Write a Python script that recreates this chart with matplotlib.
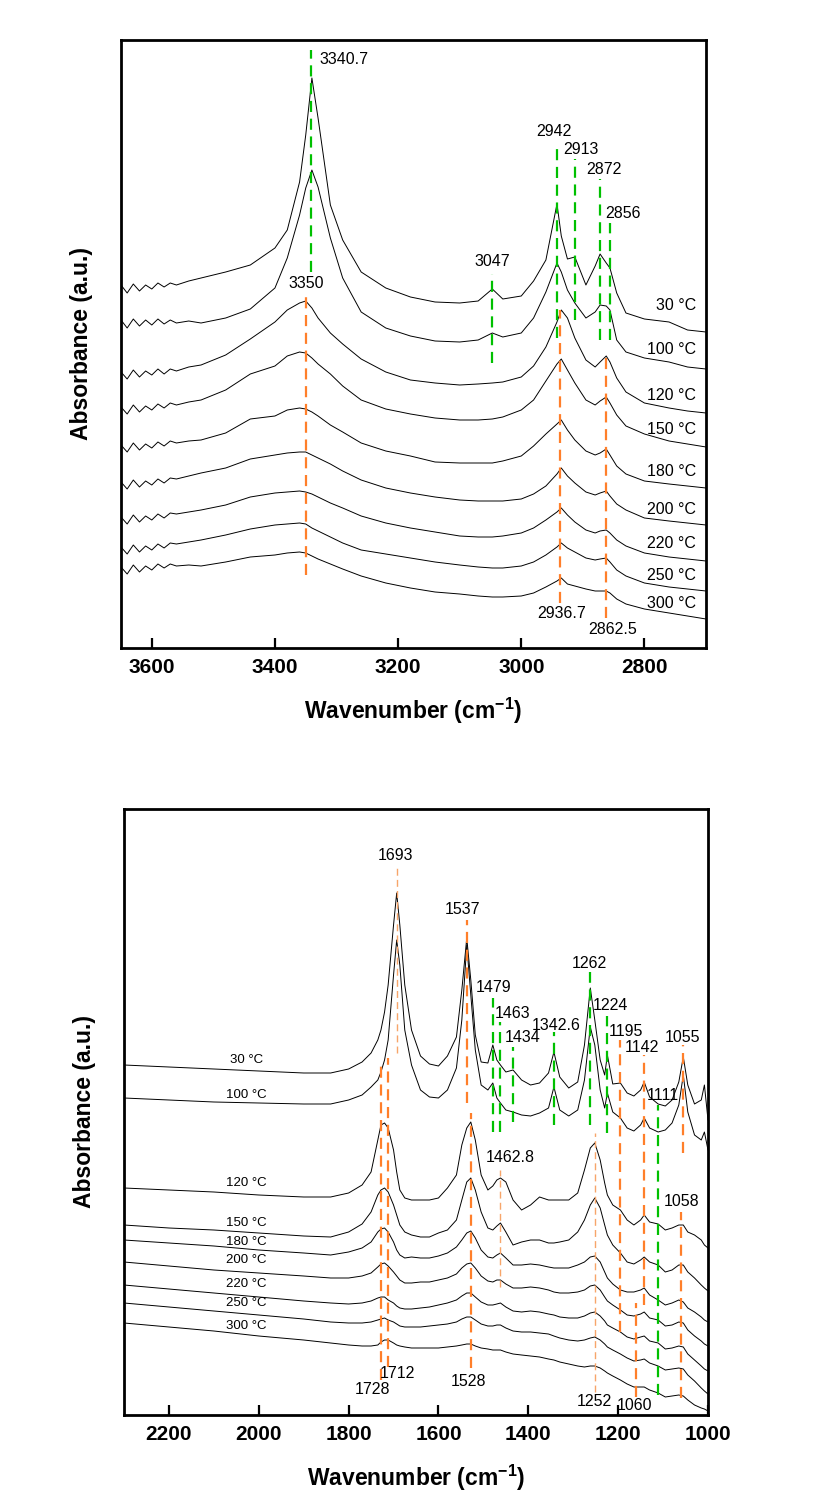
import matplotlib
matplotlib.use('Agg')
import matplotlib.pyplot as plt

plt.rcParams['font.family'] = ['Liberation Sans', 'DejaVu Sans']
plt.rcParams['mathtext.default'] = 'regular'
plt.rcParams['axes.unicode_minus'] = False

temps = ['30 °C', '100 °C', '120 °C', '150 °C', '180 °C', '200 °C', '220 °C', '250 °C', '300 °C']

# ---- upper panel: 3650-2700 cm-1 ----
top_wn = [3650, 3640, 3630, 3620, 3610, 3600, 3590, 3580, 3570, 3560,
          3540, 3520, 3480, 3440, 3400, 3380, 3360, 3350, 3340, 3330,
          3310, 3290, 3260, 3220, 3180, 3140, 3100, 3070, 3047, 3030,
          3000, 2980, 2960, 2942, 2935, 2925, 2913, 2895, 2880, 2872,
          2862, 2856, 2845, 2830, 2800, 2760, 2730, 2700]

top_30 = [372, 364, 373, 366, 372, 368, 374, 370, 374, 372, 376, 379,
          385, 392, 409, 427, 475, 522, 579, 539, 452, 417, 385, 369, 360, 355, 354, 356,
          368, 358, 361, 376, 397, 453, 421, 398, 400, 372, 391, 403, 394, 389, 364, 344,
          338, 335, 327, 325]
top_100 = [337, 329, 338, 331, 337, 332, 338, 333, 337, 334, 336, 334,
           339, 348, 369, 399, 442, 469, 487, 470, 419, 379, 345, 329, 321, 316, 315, 317,
           324, 320, 324, 339, 365, 394, 385, 367, 354, 339, 345, 352, 351, 347, 317, 305,
           299, 295, 290, 288]
top_120 = [285, 278, 287, 280, 286, 282, 288, 283, 288, 286, 290, 292,
           302, 318, 335, 347, 354, 356, 349, 339, 324, 313, 298, 285, 277, 274, 272, 273,
           274, 275, 280, 291, 310, 335, 347, 339, 319, 297, 290, 295, 301, 295, 279, 265,
           254, 249, 246, 244]
top_150 = [250, 243, 252, 245, 251, 247, 253, 249, 254, 252, 255, 257,
           267, 283, 291, 301, 305, 304, 299, 293, 283, 271, 257, 248, 243, 239, 237, 237,
           238, 240, 247, 257, 276, 293, 298, 287, 274, 257, 252, 256, 260, 254, 242, 231,
           223, 216, 213, 210]
top_180 = [212, 205, 214, 207, 213, 209, 215, 211, 216, 214, 216, 217,
           224, 238, 241, 247, 249, 248, 245, 241, 232, 225, 214, 206, 201, 195, 194, 194,
           194, 196, 201, 211, 223, 233, 237, 227, 217, 206, 202, 204, 208, 202, 191, 183,
           176, 173, 171, 169]
top_200 = [175, 168, 177, 170, 176, 172, 178, 174, 179, 178, 181, 184,
           189, 198, 202, 204, 205, 205, 202, 199, 193, 186, 177, 169, 164, 160, 157, 156,
           156, 156, 158, 163, 171, 183, 189, 181, 174, 165, 162, 164, 166, 161, 153, 147,
           139, 136, 134, 132]
top_220 = [140, 133, 142, 135, 141, 137, 143, 139, 144, 143, 145, 147,
           152, 160, 164, 165, 166, 165, 163, 160, 154, 149, 141, 134, 129, 125, 121, 120,
           120, 121, 124, 129, 137, 145, 149, 142, 135, 127, 124, 126, 127, 124, 117, 111,
           104, 100, 98, 96]
top_250 = [110, 103, 112, 105, 111, 107, 113, 109, 114, 113, 115, 117,
           122, 128, 132, 133, 134, 133, 129, 126, 120, 114, 107, 103, 99, 95, 92, 90,
           89, 89, 91, 95, 102, 110, 114, 109, 105, 99, 97, 98, 99, 95, 87, 81,
           74, 70, 68, 66]
top_300 = [90, 83, 92, 85, 91, 87, 93, 89, 93, 91, 92, 91,
           95, 100, 102, 104, 105, 104, 101, 98, 93, 88, 81, 74, 69, 65, 63, 61,
           60, 60, 61, 64, 70, 76, 79, 73, 71, 68, 66, 66, 66, 64, 58, 53,
           48, 44, 41, 38]
top_curves = [top_30, top_100, top_120, top_150, top_180, top_200, top_220, top_250, top_300]

# marker lines: position, lower end, upper end
top_green_pos = [3340.7, 3047, 2942, 2913, 2872, 2856]
top_green_lo = [385, 294, 319, 337, 317, 317]
top_green_hi = [607, 383, 514, 498, 478, 434]
top_orange_pos = [3350, 2936.7, 2862.5]
top_orange_lo = [82, 54, 39]
top_orange_hi = [364, 347, 305]

top_peak_text = ['3350', '3047', '2942', '2913', '2872', '2856', '2936.7', '2862.5']
top_peak_x = [3350, 3047, 2947, 2903, 2866, 2835, 2934, 2851]
top_peak_y = [374, 396, 525, 507, 487, 444, 44, 28]
top_temp_y = [351, 307, 261, 227, 185, 148, 114, 81, 54]

# ---- lower panel: 2300-1000 cm-1 ----
bot_wn = [2300, 2200, 2100, 2000, 1900, 1840, 1800, 1770, 1750, 1735,
          1728, 1720, 1712, 1700, 1693, 1686, 1675, 1660, 1640, 1620,
          1600, 1580, 1560, 1548, 1537, 1528, 1518, 1505, 1490, 1479,
          1470, 1462, 1450, 1434, 1415, 1395, 1375, 1355, 1343, 1330,
          1310, 1290, 1275, 1262, 1252, 1240, 1230, 1224, 1212, 1195,
          1180, 1165, 1150, 1142, 1130, 1111, 1095, 1080, 1065, 1055,
          1045, 1030, 1015, 1008, 1000]

bot_30 = [350, 348, 346, 344, 342, 342, 346, 353, 362, 375,
          385, 403, 430, 490, 522, 490, 430, 385, 359, 351,
          349, 359, 378, 425, 477, 435, 380, 353, 352, 370,
          355, 350, 343, 345, 335, 330, 332, 342, 363, 338,
          327, 333, 370, 427, 395, 355, 340, 360, 331, 332,
          322, 319, 325, 333, 318, 311, 309, 315, 333, 358,
          330, 311, 315, 330, 295]
bot_100 = [317, 315, 313, 312, 311, 311, 315, 320, 328, 335,
           343, 355, 375, 440, 475, 450, 385, 350, 325, 318,
           317, 325, 347, 395, 470, 420, 365, 330, 325, 332,
           317, 312, 305, 303, 300, 299, 302, 307, 328, 305,
           299, 305, 335, 388, 370, 325, 307, 322, 303, 297,
           287, 284, 290, 297, 287, 283, 285, 292, 310, 340,
           303, 280, 275, 283, 265]
bot_120 = [227, 225, 223, 220, 218, 218, 222, 230, 243, 275,
           290, 292, 287, 265, 243, 225, 217, 215, 215, 215,
           217, 227, 240, 270, 287, 293, 275, 240, 225, 229,
           235, 237, 233, 215, 205, 210, 218, 215, 215, 215,
           215, 222, 245, 267, 272, 255, 232, 220, 210, 205,
           195, 190, 195, 200, 193, 191, 185, 187, 190, 190,
           183, 180, 175, 170, 167]
bot_150 = [190, 187, 185, 182, 179, 178, 183, 191, 203, 220,
           225, 227, 223, 210, 200, 190, 183, 180, 178, 178,
           182, 185, 195, 215, 233, 237, 225, 203, 187, 185,
           189, 192, 183, 170, 173, 175, 175, 172, 172, 173,
           175, 183, 195, 210, 217, 207, 190, 180, 170, 162,
           153, 151, 155, 158, 153, 150, 143, 145, 150, 150,
           143, 137, 130, 127, 124]
bot_180 = [175, 172, 169, 165, 162, 160, 163, 167, 173, 183,
           186, 187, 183, 173, 165, 160, 157, 158, 157, 157,
           159, 162, 168, 175, 182, 184, 177, 165, 158, 157,
           160, 162, 157, 150, 150, 151, 150, 148, 147, 147,
           147, 150, 153, 158, 159, 153, 143, 137, 131, 125,
           123, 123, 125, 127, 120, 115, 110, 112, 115, 113,
           107, 103, 98, 95, 93]
bot_200 = [153, 149, 145, 142, 139, 137, 137, 139, 142, 148,
           151, 152, 149, 143, 139, 135, 132, 132, 133, 133,
           135, 137, 141, 147, 151, 152, 147, 139, 134, 133,
           135, 135, 131, 127, 127, 128, 127, 125, 123, 122,
           122, 123, 125, 129, 130, 125, 118, 114, 110, 105,
           100, 99, 101, 103, 97, 95, 89, 90, 93, 92,
           85, 79, 74, 71, 69]
bot_220 = [130, 126, 122, 118, 114, 112, 111, 112, 114, 117,
           118, 118, 115, 112, 109, 107, 106, 106, 107, 108,
           110, 112, 115, 119, 122, 122, 118, 113, 110, 110,
           111, 112, 108, 104, 103, 104, 103, 101, 100, 98,
           97, 97, 99, 102, 103, 99, 94, 90, 87, 83,
           78, 76, 78, 79, 74, 72, 66, 67, 69, 68,
           61, 55, 49, 46, 44]
bot_250 = [112, 108, 104, 100, 96, 93, 92, 92, 93, 95,
           96, 97, 95, 93, 91, 89, 88, 88, 88, 89,
           90, 91, 93, 96, 98, 98, 95, 91, 89, 89,
           90, 90, 87, 84, 83, 83, 82, 81, 79, 77,
           75, 74, 75, 77, 78, 75, 71, 68, 65, 61,
           57, 54, 55, 56, 52, 49, 45, 46, 47, 46,
           40, 34, 27, 24, 21]
bot_300 = [92, 88, 84, 79, 75, 72, 70, 69, 69, 70,
           73, 75, 75, 72, 70, 69, 68, 67, 67, 67,
           67, 68, 69, 70, 71, 71, 69, 67, 66, 65,
           65, 65, 63, 61, 60, 59, 58, 56, 55, 53,
           51, 49, 48, 49, 49, 47, 44, 42, 39, 35,
           31, 28, 28, 28, 25, 22, 18, 19, 20, 19,
           15, 10, 7, 6, 4]
bot_curves = [bot_30, bot_100, bot_120, bot_150, bot_180, bot_200, bot_220, bot_250, bot_300]

bot_green_pos = [1479, 1463, 1434, 1342.6, 1262, 1224, 1111]
bot_green_lo = [283, 283, 293, 290, 290, 282, 20]
bot_green_hi = [417, 393, 368, 383, 443, 399, 310]
bot_orange_pos = [1728, 1712, 1537, 1528, 1195, 1142, 1055, 1160, 1060]
bot_orange_lo = [35, 48, 312, 47, 83, 110, 262, 18, 17]
bot_orange_hi = [352, 357, 495, 302, 375, 360, 370, 112, 203]
bot_thin_pos = [1693, 1462.8, 1252]
bot_thin_lo = [362, 128, 23]
bot_thin_hi = [548, 245, 282]

bot_peak_text = ['1693', '1537', '1479', '1463', '1434', '1342.6', '1262', '1224', '1195',
                 '1142', '1111', '1055', '1462.8', '1058', '1712', '1728', '1528', '1252', '1060']
bot_peak_x = [1695, 1547, 1478, 1435, 1412, 1337, 1263, 1217, 1182,
              1146, 1100, 1056, 1440, 1059, 1691, 1747, 1534, 1252, 1163]
bot_peak_y = [560, 506, 427, 402, 377, 390, 451, 409, 384,
              368, 319, 378, 258, 213, 41, 25, 33, 13, 10]
bot_temp_y = [355, 320, 232, 192, 173, 155, 131, 112, 89]

GREEN = '#00c000'
ORANGE = '#ff7f2a'
LIGHT_ORANGE = '#f7a56a'
DASH = (0, (5, 3))

fig = plt.figure(figsize=(8.24, 15.02), dpi=100)
ax1 = fig.add_axes([121 / 824, 1 - 648 / 1502, 585 / 824, 608 / 1502])
ax2 = fig.add_axes([124 / 824, 1 - 1415 / 1502, 584 / 824, 606 / 1502])

for ys in top_curves:
    ax1.plot(top_wn, ys, color='black', lw=0.7)
ax1.vlines(top_green_pos, top_green_lo, top_green_hi, colors=GREEN, linestyles=DASH, lw=1.6)
ax1.vlines(top_orange_pos, top_orange_lo, top_orange_hi, colors=ORANGE, linestyles=DASH, lw=1.6)
ax1.text(3328, 597, '3340.7', ha='left', va='center', fontsize=11.5)
for s, x, y in zip(top_peak_text, top_peak_x, top_peak_y):
    ax1.text(x, y, s, ha='center', va='center', fontsize=11.5)
for s, y in zip(temps, top_temp_y):
    ax1.text(2716, y, s, ha='right', va='center', fontsize=11.5)
ax1.set_xlim(3650, 2700)
ax1.set_ylim(9, 617)
ax1.set_xticks([3600, 3400, 3200, 3000, 2800])

for ys in bot_curves:
    ax2.plot(bot_wn, ys, color='black', lw=0.7)
ax2.vlines(bot_green_pos, bot_green_lo, bot_green_hi, colors=GREEN, linestyles=DASH, lw=1.6)
ax2.vlines(bot_orange_pos, bot_orange_lo, bot_orange_hi, colors=ORANGE, linestyles=DASH, lw=1.6)
ax2.vlines(bot_thin_pos, bot_thin_lo, bot_thin_hi, colors=LIGHT_ORANGE, linestyles=DASH, lw=1.0)
for s, x, y in zip(bot_peak_text, bot_peak_x, bot_peak_y):
    ax2.text(x, y, s, ha='center', va='center', fontsize=11.5)
for s, y in zip(temps, bot_temp_y):
    ax2.text(2028, y, s, ha='center', va='center', fontsize=9.5)
ax2.set_xlim(2300, 1000)
ax2.set_ylim(0, 606)
ax2.set_xticks([2200, 2000, 1800, 1600, 1400, 1200, 1000])

for ax in (ax1, ax2):
    ax.set_yticks([])
    for sp in ax.spines.values():
        sp.set_linewidth(2.0)
    ax.tick_params(axis='x', direction='in', length=7, width=1.6, labelsize=15, pad=7)
    for lbl in ax.get_xticklabels():
        lbl.set_fontweight('bold')
    ax.set_xlabel('Wavenumber (cm$^{-1}$)', fontsize=16.5, fontweight='bold', labelpad=14)
    ax.set_ylabel('Absorbance (a.u.)', fontsize=16.5, fontweight='bold', labelpad=20)

fig.savefig('out.png', dpi=100)
